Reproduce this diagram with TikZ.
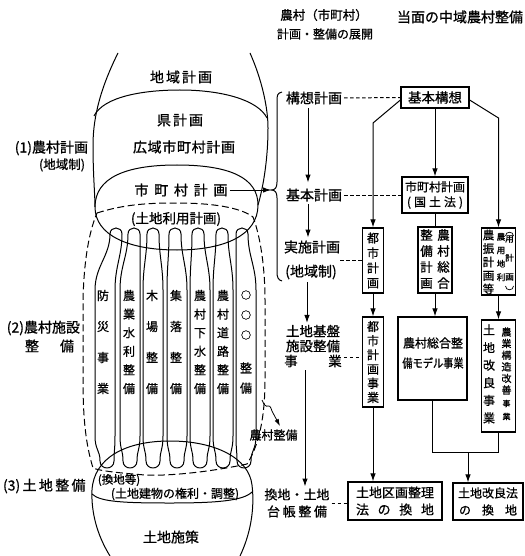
\documentclass[tikz,border=0pt]{standalone}
\usepackage{fontspec}
\usepackage{graphicx}
\setmainfont{Noto Sans CJK JP}[FakeBold=0.8]
\usetikzlibrary{arrows.meta,calc}
\begin{document}
\begin{tikzpicture}[x=1pt,y=-1pt,line width=1pt,
  lbl/.style={inner sep=0pt,outer sep=0pt,align=center},
  flbox/.style={draw,line width=1.2pt,inner sep=0pt,align=center},
  arr/.style={-{Latex[length=8pt,width=5.5pt]}},
  dsh/.style={dash pattern=on 3.5pt off 2.5pt},
  bigdsh/.style={dash pattern=on 7pt off 3.5pt},
  f14/.style={font=\fontsize{14}{16}\selectfont},
  f13/.style={font=\fontsize{13.5}{15}\selectfont}]
\useasboundingbox (0,0) rectangle (524,556);
\fill[white] (0,0) rectangle (524,556);

% ---------- headings ----------
\node[lbl,font=\fontsize{12.5}{14}\selectfont] (h1) at (324,15) {農村（市町村）};
\node[lbl,font=\fontsize{12}{14}\selectfont] (h2) at (325,34) {計画・整備の展開};
\node[lbl,f14] (h3) at (460,17) {当面の中域農村整備};

% ---------- left diagram shapes ----------
% vase
\draw (118,53) .. controls (102,85) and (93,115) .. (93,145) .. controls (93,175) and (95,195) .. (95,207);
\draw (250,53) .. controls (262,80) and (268,108) .. (268,128) .. controls (268,160) and (263,188) .. (258,205);
% dome
\draw (94,116) .. controls (104,96) and (145,90) .. (180,90) .. controls (222,90) and (258,100) .. (267,118);
% municipal plan ellipse
\draw (95,207) .. controls (95,178) and (125,165) .. (177,165) .. controls (230,165) and (258,178) .. (258,205)
  .. controls (258,235) and (225,250) .. (177,250) .. controls (128,250) and (95,235) .. (95,207) -- cycle;
% dashed facility outline
\draw[bigdsh] (97,213) .. controls (125,204) and (150,203) .. (177,203) .. controls (210,203) and (240,207) .. (253,217)
  .. controls (261,238) and (265,270) .. (265,300) -- (265,380) .. controls (265,420) and (258,447) .. (247,464)
  .. controls (200,474) and (160,476) .. (145,475) .. controls (120,473) and (100,471) .. (93,468)
  .. controls (86,445) and (83,420) .. (83,380) -- (83,300) .. controls (84,260) and (89,232) .. (97,213) -- cycle;
% tubes
\foreach \t/\l/\r/\b in {116/95/115/107,134/120/140/130,153/143/163/153,175/167/187/177,198/190/210/200,222/213/233/223,242/236/256/244}{
  \draw (\t-6,234) .. controls (\t-6,226) and (\t+6,226) .. (\t+6,234)
    .. controls (\t+6,256) and (\r,266) .. (\r,290) -- (\r,436)
    .. controls (\r,450) and (\b+7,450) .. (\b+7,461)
    .. controls (\b+7,470.3) and (\b-7,470.3) .. (\b-7,461)
    .. controls (\b-7,450) and (\l,450) .. (\l,436) -- (\l,290)
    .. controls (\l,266) and (\t-6,256) .. (\t-6,234) -- cycle;
}
% land shape
\draw (110,556) .. controls (97,535) and (91,512) .. (92,490) .. controls (94,458) and (125,441) .. (170,441)
  .. controls (215,441) and (249,458) .. (252,485) .. controls (255,510) and (250,535) .. (240,556);
\draw (92,494) .. controls (100,502) and (125,503) .. (170,503) .. controls (215,503) and (243,501) .. (252,492);

% ---------- left diagram texts ----------
\node[lbl,f14] (chiiki) at (181,77) {\makebox[62pt][s]{地\hfill 域\hfill 計\hfill 画}};
\node[lbl,f14] (ken) at (180,120) {\makebox[46pt][s]{県\hfill 計\hfill 画}};
\node[lbl,f14] (koiki) at (184,147) {\makebox[102pt][s]{広\hfill 域\hfill 市\hfill 町\hfill 村\hfill 計\hfill 画}};
\node[lbl,f14] (shi) at (181,190) {\makebox[93pt][s]{市\hfill 町\hfill 村\hfill 計\hfill 画}};
\node[lbl,f13] (tochiriyo) at (176,219) {(土地利用計画)};

\node[lbl,font=\fontsize{12}{31}\selectfont] (tb1) at (103,342) {防\\災\\事\\業};
\node[lbl,font=\fontsize{12}{18.6}\selectfont] (tb2) at (129,342) {農\\業\\水\\利\\整\\備};
\node[lbl,font=\fontsize{12}{31}\selectfont] (tb3) at (152,342) {木\\場\\整\\備};
\node[lbl,font=\fontsize{12}{31}\selectfont] (tb4) at (176,342) {集\\落\\整\\備};
\node[lbl,font=\fontsize{12}{18.6}\selectfont] (tb5) at (200,342) {農\\村\\下\\水\\整\\備};
\node[lbl,font=\fontsize{12}{18.6}\selectfont] (tb6) at (223,342) {農\\村\\道\\路\\整\\備};
\node[lbl,font=\fontsize{10}{20}\selectfont] (tb7a) at (246,315) {○\\○\\○};
\node[lbl,font=\fontsize{12}{20}\selectfont] (tb7b) at (246,378) {整\\備};

\node[lbl,font=\fontsize{11.5}{13}\selectfont] (kanchitou) at (119,480) {(換地等)};
\node[lbl,font=\fontsize{12}{14}\selectfont] (kenri) at (175,494) {(土地建物の権利・調整)};
\node[lbl,f14] (shisaku) at (171,537) {土地施策};

\node[lbl,f14,anchor=east] (L1) at (88,148) {(1)農村計画};
\node[lbl,font=\fontsize{12.5}{14}\selectfont,anchor=east] (L1b) at (85,165) {(地域制)};
\node[lbl,f14,anchor=east] (L2) at (80,328) {(2)農村施設};
\node[lbl,f14] (L2b) at (49.5,346) {\makebox[49pt][s]{整\hfill 備}};
\node[lbl,f14,anchor=west] (L3) at (3,486) {(3)\,土\,地\,整\,備};

\node[lbl,font=\fontsize{12}{14}\selectfont] (nsb) at (273.5,435) {農村整備};
\coordinate (wst) at (262,400);
\coordinate (wend) at (280,426);
\draw[-{Latex[length=7pt,width=4.5pt]},line width=0.8pt] (wst) .. controls (264,405) and (266,407) .. (268,406)
  .. controls (271,405) and (271,410) .. (273,413) -- (wend);

% ---------- brace ----------
\coordinate (btip) at (271,190);
\draw (282,92) .. controls (277,93) and (277,96) .. (277,101) -- (277,182) .. controls (277,188) and (275,190) .. (btip)
  .. controls (275,190) and (277,192) .. (277,198) -- (277,272) .. controls (277,277) and (278,280) .. (282,281);
\draw[arr,shorten <=2pt] (shi.east) -- (btip);

% ---------- middle column ----------
\node[lbl,f14] (koso) at (314,98) {構想計画};
\node[lbl,f14] (kihon) at (314,195) {基本計画};
\node[lbl,f14] (jisshi) at (312,247) {実施計画};
\node[lbl,f14] (chiiki2) at (311,272) {(地域制)};
\node[lbl,f13] (kiban1) at (313,331) {土地基盤};
\node[lbl,f13] (kiban2) at (313,346) {施設整備};
\node[lbl,f13] (ji) at (291,361) {事};
\node[lbl,f13] (gyo) at (335,361) {業};
\node[lbl,font=\fontsize{13}{17}\selectfont] (kanchi) at (297,503) {換地・土地\\\makebox[60pt][s]{台\hfill 帳\hfill 整\hfill 備}};
\coordinate (jcoord) at (340,260);

\draw[arr,shorten <=4pt,shorten >=6pt] ([xshift=-6pt]koso.south) -- ([xshift=-6pt]kihon.north);
\draw[arr,shorten <=3pt,shorten >=3pt] ([xshift=-6pt]kihon.south) -- ([xshift=-4pt]jisshi.north);
\draw[arr,shorten <=3pt,shorten >=2pt] ([xshift=-4pt]chiiki2.south) -- ([xshift=-6pt]kiban1.north);
\draw[arr,shorten <=3pt,shorten >=2pt] ([xshift=14pt]ji.south) -- ([xshift=8pt]kanchi.north);

% ---------- right column ----------
\node[flbox,minimum width=68pt,minimum height=21pt,f13] (kihonkoso) at (435,97.5) {基本構想};
\node[flbox,minimum width=66pt,minimum height=36pt,font=\fontsize{12}{15}\selectfont] (shichoson) at (435,195)
  {市町村計画\\\makebox[56pt][s]{(\hfill 国\hfill 土\hfill 法\hfill )}};
\node[flbox,minimum width=21pt,minimum height=65pt,font=\fontsize{12}{15}\selectfont] (toshikei) at (373,260.5) {都\\市\\計\\画};
\node[flbox,minimum width=21pt,minimum height=90pt,font=\fontsize{12}{14.2}\selectfont] (toshiji) at (373,362) {都\\市\\計\\画\\事\\業};
\node[flbox,minimum width=34pt,minimum height=66pt] (nsogo) at (435,260) {};
\node[lbl,font=\fontsize{12.5}{16}\selectfont] (nsogoR) at (443.5,259) {農\\村\\総\\合};
\node[lbl,font=\fontsize{12.5}{16}\selectfont] (nsogoL) at (426.5,259) {整\\備\\計\\画};
\node[flbox,minimum width=34pt,minimum height=67pt] (noshin) at (498.5,261.5) {};
\node[lbl,font=\fontsize{11.5}{13.5}\selectfont] (nsL) at (488.5,262) {農\\振\\計\\画\\等};
\node[lbl,font=\fontsize{8.5}{13.5}\selectfont] (nsM) at (501,257) {農\\用\\地\\利};
\node[lbl,font=\fontsize{8.5}{19}\selectfont] (nsR) at (509.5,258) {用\\計\\画};
\draw[line width=0.7pt] (505.5,236) .. controls (505.5,231) and (513.5,231) .. (513.5,236);
\draw[line width=0.7pt] (505.5,286) .. controls (505.5,291) and (513.5,291) .. (513.5,286);
\node[flbox,minimum width=69pt,minimum height=83pt] (model) at (432.5,358.5) {};
\node[lbl,font=\fontsize{12}{20}\selectfont] (mtxt) at (433,353) {農村総合整\\\scalebox{0.85}[1]{備モデル事業}};
\node[flbox,minimum width=34pt,minimum height=112pt] (kairyo) at (498.5,376) {};
\node[lbl,font=\fontsize{12}{17.6}\selectfont] (krL) at (489,374) {土\\地\\改\\良\\事\\業};
\node[lbl,font=\fontsize{10}{11.6}\selectfont] (krR1) at (506.5,361) {農\\業\\構\\造\\改\\善};
\node[lbl,font=\fontsize{8}{13}\selectfont] (krR2) at (506.5,410) {事\\業};
\node[flbox,minimum width=94pt,minimum height=38pt,font=\fontsize{13}{17}\selectfont] (kukaku) at (395,501)
  {土地区画整理\\\makebox[78pt][s]{法\hfill の\hfill 換\hfill 地}};
\node[flbox,minimum width=70pt,minimum height=37pt,font=\fontsize{12}{17}\selectfont] (kairyoho) at (488,501.5)
  {土地改良法\\\makebox[58pt][s]{の\hfill 換\hfill 地}};

\coordinate (dl) at (373,123);
\coordinate (dr) at (498.5,118);
\coordinate (merge) at (468,452);

\draw[dsh,shorten <=2pt] (koso.east) -- (kihonkoso.west);
\draw[dsh,shorten <=2pt] (kihon.east) -- (shichoson.west);
\draw[dsh] (jcoord) -- (jcoord -| toshikei.west);
\draw[dsh,shorten <=2pt] ([yshift=4pt]gyo.east) -- ([yshift=4pt]gyo.east -| toshiji.west);
\draw[dsh,shorten <=2pt] (kanchi.east) -- (kanchi.east -| kukaku.west);

\draw[arr] (kihonkoso.south) -- (shichoson.north);
\draw[arr] ([yshift=-2.5pt]kihonkoso.west) -- (dl) -- (dl |- toshikei.north);
\draw[arr] ([yshift=-2.5pt]kihonkoso.east) -- (dr) -- (dr |- noshin.north);
\draw (shichoson.south) -- (nsogo.north);
\draw[arr] (toshikei.south) -- (toshiji.north);
\draw[arr] (nsogo.south) -- (nsogo.south |- model.north);
\draw[arr] (noshin.south) -- (kairyo.north);
\draw[arr] (toshiji.south) -- (toshiji.south |- kukaku.north);
\draw (model.south) -- (model.south |- merge) -- (kairyo.south |- merge) -- (kairyo.south);
\draw[arr] (merge) -- (merge |- kairyoho.north);
\end{tikzpicture}
\end{document}
